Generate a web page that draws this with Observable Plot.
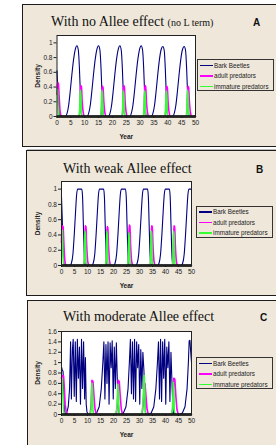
<!DOCTYPE html>
<html><head><meta charset="utf-8">
<script src="https://cdn.jsdelivr.net/npm/d3@7"></script>
<script src="https://cdn.jsdelivr.net/npm/@observablehq/plot@0.6"></script>
<style>
html,body{margin:0;padding:0;background:#fff}
body{position:relative;width:276px;height:445px;overflow:hidden;font-family:"Liberation Sans",Arial,sans-serif}
.panel{position:absolute;background:#EEE7DA;border:1.5px solid #1c1c1c;box-sizing:border-box}
.title{position:absolute;font-family:"Liberation Serif","Times New Roman",serif;font-size:14px;color:#111;white-space:nowrap;line-height:1}
.title small{font-size:10px}
.letter{position:absolute;font-family:"Liberation Sans",Arial,sans-serif;font-weight:bold;font-size:10px;color:#111;line-height:1}
.legend{position:absolute;border:1px solid #333;background:#EEE7DA;box-sizing:border-box;width:77px;height:32px}
.legend .row{position:absolute;left:2px;font-size:6.3px;color:#222;white-space:nowrap;line-height:7px;height:7px}
.legend .sw{display:inline-block;width:13px;height:1.6px;vertical-align:middle;margin-right:1px;position:relative;top:-0.5px}
.plotwrap{position:absolute;left:0}
.plotwrap svg{overflow:visible}
[aria-label="x-axis label"] text,[aria-label="y-axis label"] text{font-weight:bold;font-size:6.5px}
</style></head><body>
<script>
// ---------- data ----------
const xTicks = [0,5,10,15,20,25,30,35,40,45,50];
const yTicksAB = [0,0.2,0.4,0.6,0.8,1];
const yTicksC = [0,0.2,0.4,0.6,0.8,1,1.2,1.4,1.6];
const seriesNames = ["Bark Beetles","adult predators","immature predators"];
const seriesColors = ["#000080","#ff00ff","#33ff33"];
const panelTitles = ["With no Allee effect","With weak Allee effect","With moderate Allee effect"];
const panelNotes = ["(no L term)","",""];
const panelLetters = ["A","B","C"];

const beetlesA = [
[0,0.62],[0.3,0.38],[0.6,0.12],[0.9,0.02],[1.2,0],
[3.0,0],[3.6,0.04],[4.2,0.15],[4.8,0.35],[5.4,0.58],[6.0,0.78],[6.6,0.91],[7.2,0.96],[7.7,0.9],[8.1,0.65],[8.4,0.35],[8.7,0.1],[9.0,0.01],[9.3,0],
[10.8,0],[11.4,0.04],[12.0,0.15],[12.6,0.35],[13.2,0.58],[13.8,0.78],[14.4,0.91],[15.0,0.96],[15.5,0.9],[15.9,0.65],[16.2,0.35],[16.5,0.1],[16.8,0.01],[17.1,0],
[18.5,0],[19.1,0.04],[19.7,0.15],[20.3,0.35],[20.9,0.58],[21.5,0.78],[22.1,0.91],[22.7,0.96],[23.2,0.9],[23.6,0.65],[23.9,0.35],[24.2,0.1],[24.5,0.01],[24.8,0],
[26.2,0],[26.8,0.04],[27.4,0.15],[28.0,0.35],[28.6,0.58],[29.2,0.78],[29.8,0.91],[30.4,0.96],[30.9,0.9],[31.3,0.65],[31.6,0.35],[31.9,0.1],[32.2,0.01],[32.5,0],
[34.0,0],[34.6,0.04],[35.2,0.15],[35.8,0.35],[36.4,0.58],[37.0,0.78],[37.6,0.91],[38.2,0.95],[38.7,0.9],[39.1,0.65],[39.4,0.35],[39.7,0.1],[40.0,0.01],[40.3,0],
[41.7,0],[42.3,0.04],[42.9,0.15],[43.5,0.35],[44.1,0.58],[44.7,0.78],[45.3,0.91],[45.9,0.95],[46.4,0.9],[46.8,0.65],[47.1,0.35],[47.4,0.1],[47.7,0.01],[48.0,0],[49.4,0],[50,0.02]
];
const adultsA = [
[0,0.3],[0.15,0.46],[0.5,0.45],[0.8,0.25],[1.1,0.08],[1.5,0.01],[2.0,0],
[8.0,0],[8.3,0.12],[8.5,0.42],[8.8,0.41],[9.1,0.2],[9.5,0.05],[10.0,0],
[15.8,0],[16.1,0.12],[16.3,0.41],[16.6,0.4],[16.9,0.2],[17.3,0.05],[17.8,0],
[23.5,0],[23.8,0.12],[24.0,0.42],[24.3,0.41],[24.6,0.2],[25.0,0.05],[25.5,0],
[31.2,0],[31.5,0.12],[31.7,0.42],[32.0,0.41],[32.3,0.2],[32.7,0.05],[33.2,0],
[39.0,0],[39.3,0.12],[39.5,0.41],[39.8,0.4],[40.1,0.2],[40.5,0.05],[41.0,0],
[46.7,0],[47.0,0.12],[47.2,0.41],[47.5,0.4],[47.8,0.2],[48.2,0.05],[48.7,0],[50,0]
];
const immaturesA = [
[0,0.37],[0.2,0.36],[0.4,0.15],[0.7,0.02],[1.0,0],
[7.9,0],[8.2,0.1],[8.4,0.36],[8.6,0.3],[8.8,0.05],[9.1,0],
[15.7,0],[16.0,0.1],[16.2,0.36],[16.4,0.3],[16.6,0.05],[16.9,0],
[23.4,0],[23.7,0.1],[23.9,0.35],[24.1,0.3],[24.3,0.05],[24.6,0],
[31.1,0],[31.4,0.1],[31.6,0.35],[31.8,0.3],[32.0,0.05],[32.3,0],
[38.9,0],[39.2,0.1],[39.4,0.35],[39.6,0.3],[39.8,0.05],[40.1,0],
[46.6,0],[46.9,0.1],[47.1,0.36],[47.3,0.3],[47.5,0.05],[47.8,0],[50,0]
];

const beetlesB = [
[0,0.9],[0.3,0.6],[0.6,0.25],[0.9,0.05],[1.2,0],
[3.2,0],[3.8,0.03],[4.4,0.15],[4.9,0.4],[5.4,0.7],[5.8,0.92],[6.2,1.0],[7.8,1.0],[8.1,0.9],[8.4,0.55],[8.7,0.2],[9.0,0.03],[9.3,0],
[11.6,0],[12.2,0.03],[12.8,0.15],[13.3,0.4],[13.8,0.7],[14.2,0.92],[14.6,1.0],[16.2,1.0],[16.5,0.9],[16.8,0.55],[17.1,0.2],[17.4,0.03],[17.7,0],
[20.0,0],[20.6,0.03],[21.2,0.15],[21.7,0.4],[22.2,0.7],[22.6,0.92],[23.0,1.0],[24.6,1.0],[24.9,0.9],[25.2,0.55],[25.5,0.2],[25.8,0.03],[26.1,0],
[28.5,0],[29.1,0.03],[29.7,0.15],[30.2,0.4],[30.7,0.7],[31.1,0.92],[31.5,1.0],[33.1,1.0],[33.4,0.9],[33.7,0.55],[34.0,0.2],[34.3,0.03],[34.6,0],
[36.9,0],[37.5,0.03],[38.1,0.15],[38.6,0.4],[39.1,0.7],[39.5,0.92],[39.9,1.0],[41.5,1.0],[41.8,0.9],[42.1,0.55],[42.4,0.2],[42.7,0.03],[43.0,0],
[46.0,0],[46.6,0.03],[47.2,0.15],[47.7,0.4],[48.2,0.7],[48.6,0.92],[49.0,1.0],[50,1.0]
];
const adultsB = [
[0,0.3],[0.2,0.52],[0.6,0.51],[0.9,0.3],[1.2,0.1],[1.6,0.01],[2.0,0],
[8.6,0],[8.9,0.15],[9.1,0.52],[9.4,0.51],[9.7,0.25],[10.1,0.05],[10.6,0],
[17.0,0],[17.3,0.15],[17.5,0.51],[17.8,0.5],[18.1,0.25],[18.5,0.05],[19.0,0],
[25.5,0],[25.8,0.15],[26.0,0.53],[26.3,0.52],[26.6,0.25],[27.0,0.05],[27.5,0],
[34.1,0],[34.4,0.15],[34.6,0.52],[34.9,0.51],[35.2,0.25],[35.6,0.05],[36.1,0],
[42.7,0],[43.0,0.15],[43.2,0.52],[43.5,0.51],[43.8,0.25],[44.2,0.05],[44.7,0],[50,0]
];
const immaturesB = [
[0,0.47],[0.3,0.46],[0.5,0.2],[0.8,0.03],[1.1,0],
[8.5,0],[8.8,0.1],[9.0,0.45],[9.2,0.4],[9.4,0.06],[9.7,0],
[16.9,0],[17.2,0.1],[17.4,0.45],[17.6,0.4],[17.8,0.06],[18.1,0],
[25.4,0],[25.7,0.1],[25.9,0.43],[26.1,0.38],[26.3,0.06],[26.6,0],
[34.0,0],[34.3,0.1],[34.5,0.45],[34.7,0.4],[34.9,0.06],[35.2,0],
[42.6,0],[42.9,0.1],[43.1,0.45],[43.3,0.4],[43.5,0.06],[43.8,0],[50,0]
];

const beetlesC = [
[0,0.92],[0.3,0.86],[0.6,0.83],[0.9,0.4],[1.2,0.05],[1.6,0.01],
[2.0,0.03],[2.6,0.15],[3.1,0.5],[3.5,1.4],[3.8,0.3],[4.2,1.25],[4.5,1.45],[4.9,0.35],[5.3,1.4],[5.7,0.25],[6.1,1.45],[6.5,0.7],[6.9,1.3],[7.3,0.2],[7.7,1.45],[8.1,0.5],[8.5,1.4],[8.9,0.3],[9.2,1.1],[9.5,0.2],[9.8,0.05],[10.3,0],
[12.5,0],[13.5,0.03],[14.5,0.15],[15.3,0.5],[15.9,1.0],[16.3,1.4],[16.7,0.3],[17.1,1.35],[17.5,0.6],[17.9,1.4],[18.3,0.2],[18.7,1.38],[19.1,0.9],[19.5,1.42],[19.9,0.3],[20.3,1.3],[20.7,0.5],[21.1,1.38],[21.5,0.6],[21.8,0.3],[22.1,0.05],[22.4,0],
[22.8,0],[23.8,0.03],[24.8,0.15],[25.6,0.5],[26.1,1.0],[26.5,1.45],[26.9,0.4],[27.3,1.4],[27.7,0.3],[28.1,1.45],[28.5,0.25],[28.9,1.4],[29.3,0.9],[29.7,1.35],[30.1,0.2],[30.5,1.25],[30.9,0.5],[31.3,1.2],[31.7,0.85],[32.0,0.4],[32.3,0.05],[32.6,0],
[33.5,0],[34.5,0.03],[35.5,0.15],[36.3,0.5],[36.9,1.0],[37.3,1.4],[37.7,0.3],[38.1,1.45],[38.5,0.25],[38.9,1.4],[39.3,0.7],[39.7,1.45],[40.1,0.2],[40.5,1.3],[40.9,0.9],[41.3,1.4],[41.7,0.25],[42.1,1.2],[42.5,0.6],[42.8,0.2],[43.1,0.03],[43.4,0],
[45.5,0],[46.5,0.03],[47.5,0.15],[48.3,0.5],[48.8,1.0],[49.1,1.42],[49.4,1.43],[49.7,1.2],[50,1.0]
];
const adultsC = [
[0,0.7],[0.2,0.75],[0.8,0.74],[1.1,0.5],[1.4,0.2],[1.8,0.05],[2.3,0],
[11.0,0],[11.4,0.2],[11.7,0.66],[12.1,0.64],[12.5,0.35],[12.9,0.1],[13.4,0],
[21.1,0],[21.5,0.2],[21.8,0.66],[22.2,0.64],[22.6,0.35],[23.0,0.1],[23.5,0],
[31.0,0],[31.4,0.2],[31.7,0.45],[32.1,0.6],[32.5,0.35],[32.9,0.1],[33.4,0],
[42.5,0],[42.9,0.2],[43.2,0.7],[43.6,0.68],[44.0,0.35],[44.4,0.1],[44.9,0],[50,0]
];
const immaturesC = [
[0,0.7],[0.3,0.68],[0.6,0.3],[0.9,0.05],[1.2,0],
[11.0,0],[11.4,0.1],[11.7,0.6],[11.9,0.5],[12.1,0.08],[12.4,0],
[20.8,0],[21.2,0.1],[21.5,0.3],[21.7,0.58],[21.9,0.45],[22.1,0.06],[22.4,0],
[30.8,0],[31.2,0.12],[31.5,0.4],[31.8,0.75],[32.0,0.5],[32.2,0.06],[32.5,0],
[42.3,0],[42.7,0.1],[43.0,0.62],[43.2,0.5],[43.4,0.06],[43.7,0],[50,0]
];

// ---------- layout ----------
const panels = [
  {box:{l:22,t:4,w:270,h:143}, frame:{l:56.5,r:195,t:35,b:116}, yMax:1.1, yTicks:yTicksAB,
   titleX:51, titleY:15, letterX:253, letterY:18, legend:{l:197,t:59}, series:[beetlesA,adultsA,immaturesA], curve:"monotone-x"},
  {box:{l:26,t:150,w:270,h:146}, frame:{l:61,r:191,t:181,b:265}, yMax:1.1, yTicks:yTicksAB,
   titleX:63, titleY:162, letterX:256, letterY:165, legend:{l:196,t:205.5}, series:[beetlesB,adultsB,immaturesB], curve:"monotone-x"},
  {box:{l:27,t:300,w:270,h:160}, frame:{l:61,r:191,t:331,b:414}, yMax:1.6, yTicks:yTicksC,
   titleX:63, titleY:310, letterX:260, letterY:313, legend:{l:196,t:357}, series:[beetlesC,adultsC,immaturesC], curve:"linear"}
];

const sep = document.createElement("div");
sep.style.cssText = "position:absolute;left:27px;top:148.5px;width:260px;height:0;border-top:1px solid #bbb";
document.body.appendChild(sep);

const fmt = d => String(+d.toFixed(1));

panels.forEach((p, i) => {
  const box = document.createElement("div");
  box.className = "panel";
  box.style.cssText = `left:${p.box.l}px;top:${p.box.t}px;width:${p.box.w}px;height:${p.box.h}px`;
  document.body.appendChild(box);

  const title = document.createElement("div");
  title.className = "title";
  title.style.left = p.titleX + "px"; title.style.top = p.titleY + "px";
  title.innerHTML = panelTitles[i] + (panelNotes[i] ? ` <small>${panelNotes[i]}</small>` : "");
  document.body.appendChild(title);

  const letter = document.createElement("div");
  letter.className = "letter";
  letter.style.left = p.letterX + "px"; letter.style.top = p.letterY + "px";
  letter.textContent = panelLetters[i];
  document.body.appendChild(letter);

  const svgTop = p.frame.t - 6;
  const mb = 30;
  const height = p.frame.b - svgTop + mb;
  const width = 200;
  const toRows = arr => arr.map(([x, y]) => ({x, y}));
  const lineMarks = p.series.map((s, k) =>
    Plot.line(toRows(s), {x: "x", y: "y", stroke: seriesColors[k], strokeWidth: k === 0 ? 1.1 : 1.6, curve: p.curve})
  );
  const chart = Plot.plot({
    width, height,
    marginLeft: p.frame.l, marginRight: width - p.frame.r,
    marginTop: p.frame.t - svgTop, marginBottom: mb,
    style: {background: "transparent", fontFamily: "'Liberation Sans', Arial, sans-serif", fontSize: "6.5px", color: "#222", overflow: "visible"},
    x: {domain: [0, 50], ticks: xTicks, tickFormat: fmt, tickSize: 2, tickPadding: 1.5, label: "Year", labelAnchor: "center", labelOffset: 22, labelArrow: "none"},
    y: {domain: [0, p.yMax], ticks: p.yTicks, tickFormat: fmt, tickSize: 3, tickPadding: 1.5, label: "Density", labelAnchor: "center", labelOffset: p.frame.l - 35, labelArrow: "none"},
    marks: [
      Plot.frame({fill: "white"}),
      ...lineMarks,
      Plot.ruleY([0], {stroke: "black", strokeWidth: 2.5}),
      Plot.frame({stroke: "#222", strokeWidth: 1})
    ]
  });
  const wrap = document.createElement("div");
  wrap.className = "plotwrap";
  wrap.style.top = svgTop + "px";
  wrap.appendChild(chart);
  document.body.appendChild(wrap);

  const lg = document.createElement("div");
  lg.className = "legend";
  lg.style.left = p.legend.l + "px"; lg.style.top = p.legend.t + "px";
  seriesNames.forEach((name, k) => {
    const row = document.createElement("div");
    row.className = "row";
    row.style.top = (1.5 + k * 10.6) + "px";
    row.innerHTML = `<span class="sw" style="background:${seriesColors[k]}"></span>${name}`;
    lg.appendChild(row);
  });
  document.body.appendChild(lg);
});
</script>
</body></html>
